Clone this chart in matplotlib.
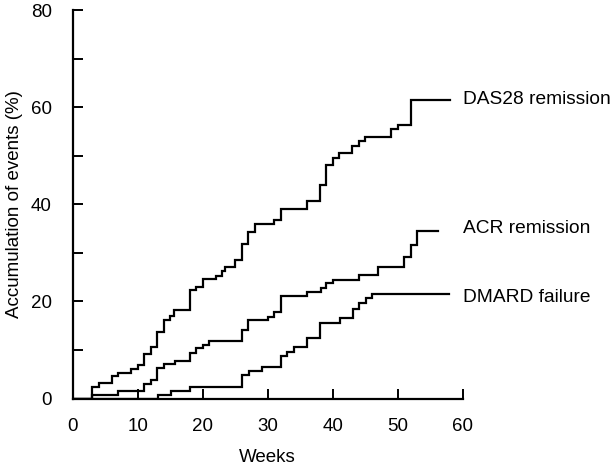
import numpy as np
import matplotlib
matplotlib.use('Agg')
import matplotlib.pyplot as plt
from matplotlib.ticker import MultipleLocator

plt.rcParams['font.family'] = ['Liberation Sans', 'DejaVu Sans']

# cumulative incidence (%), step changes at these weeks
das_weeks = [0, 3, 4, 6, 7, 9, 10, 11, 12, 13, 14, 15, 15.6, 18, 19, 20, 22, 23, 23.5,
             25, 26, 27, 28, 31, 32, 36, 38, 39, 40, 41, 43, 44, 45, 49, 50, 52, 58]
das_vals = [0, 2.3, 3.1, 4.6, 5.3, 6.0, 6.8, 9.1, 10.6, 13.7, 16.1, 17.0, 18.3, 22.3, 23.0,
            24.6, 25.3, 26.2, 27.0, 28.5, 31.9, 34.2, 35.9, 36.7, 39.0, 40.7, 44.0, 48.0,
            49.6, 50.5, 52.0, 53.0, 53.8, 55.5, 56.3, 61.5, 61.5]

acr_weeks = [0, 3, 7, 11, 12, 13, 14, 15.7, 18, 19, 20, 21, 26, 27, 30, 31, 32, 36,
             38.2, 39, 40, 44, 47, 51, 52, 53, 56.2]
acr_vals = [0, 0.8, 1.6, 2.9, 3.8, 6.2, 7.1, 7.8, 9.3, 10.3, 11.1, 11.9, 14.2, 16.1, 16.8,
            17.9, 21.1, 22.0, 22.7, 23.7, 24.5, 25.4, 27.1, 29.1, 31.6, 34.6, 34.6]

dmard_weeks = [0, 13.2, 15.2, 18.1, 26, 27.2, 29.1, 32, 33, 34, 36.1, 38.1, 41.1, 43.1,
               44.1, 45.1, 46.1, 57.9]
dmard_vals = [0, 0.8, 1.6, 2.4, 4.8, 5.7, 6.5, 8.7, 9.6, 10.6, 12.4, 15.6, 16.5, 18.4,
              19.7, 20.6, 21.5, 21.5]

labels = ['DAS28 remission', 'ACR remission', 'DMARD failure']
label_y = [61.5, 35.1, 20.9]

fig = plt.figure(figsize=(6.12, 4.68), dpi=100)
ax = fig.add_axes([0.1188, 0.1485, 0.637, 0.830])

for w, v in [(das_weeks, das_vals), (acr_weeks, acr_vals), (dmard_weeks, dmard_vals)]:
    ax.step(w, v, where='post', color='k', lw=1.6, solid_joinstyle='miter')

for lab, y in zip(labels, label_y):
    ax.text(60.1, y, lab, fontsize=13.8, va='center', ha='left', clip_on=False)

ax.set_xlim(0, 60)
ax.set_ylim(0, 80)
ax.xaxis.set_major_locator(MultipleLocator(10))
ax.yaxis.set_major_locator(MultipleLocator(20))
ax.yaxis.set_minor_locator(MultipleLocator(10))
ax.tick_params(axis='x', direction='in', length=7.5, width=1.4, pad=14, labelsize=13.5)
ax.tick_params(axis='y', which='both', direction='in', length=7, width=1.4, pad=15,
               labelsize=13.5)
for s in ['top', 'right']:
    ax.spines[s].set_visible(False)
for s in ['left', 'bottom']:
    ax.spines[s].set_linewidth(1.6)

ax.set_xlabel('Weeks', fontsize=13.5, labelpad=10)
ax.set_ylabel('Accumulation of events (%)', fontsize=13.5, labelpad=6)

fig.savefig('out.png', dpi=100)
